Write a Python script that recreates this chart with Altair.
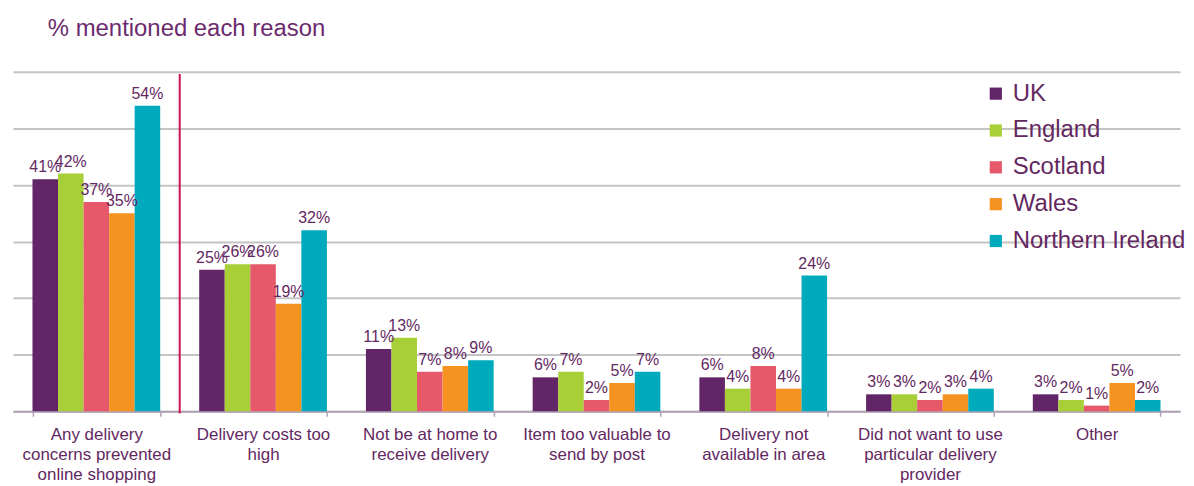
import altair as alt
import pandas as pd

categories = [
    "Any delivery\nconcerns prevented\nonline shopping",
    "Delivery costs too\nhigh",
    "Not be at home to\nreceive delivery",
    "Item too valuable to\nsend by post",
    "Delivery not\navailable in area",
    "Did not want to use\nparticular delivery\nprovider",
    "Other",
]
series = ["UK", "England", "Scotland", "Wales", "Northern Ireland"]
uk = [41, 25, 11, 6, 6, 3, 3]
england = [42, 26, 13, 7, 4, 3, 2]
scotland = [37, 26, 7, 2, 8, 2, 1]
wales = [35, 19, 8, 5, 4, 3, 5]
northern_ireland = [54, 32, 9, 7, 24, 4, 2]
colors = ["#622567", "#a9cf38", "#e5596a", "#f59220", "#00aabd"]
y_ticks = [0, 10, 20, 30, 40, 50, 60]

rows = []
for s, vals in zip(series, [uk, england, scotland, wales, northern_ireland]):
    for c, v in zip(categories, vals):
        rows.append({"category": c, "series": s, "value": v, "label": f"{v}%"})
df = pd.DataFrame(rows)

PURPLE = "#63285f"
P_IN = 0.234
W = 1172
STEP = W / len(categories)

x_enc = alt.X(
    "category:N",
    sort=categories,
    scale=alt.Scale(paddingInner=P_IN, paddingOuter=P_IN / 2),
    axis=alt.Axis(
        title=None,
        labelAngle=0,
        labelLimit=0,
        labelFontSize=17,
        labelColor=PURPLE,
        labelFont="Liberation Sans",
        labelLineHeight=20,
        labelPadding=10,
        labelExpr="split(datum.label, '\\n')",
        tickBand="extent",
        tickColor="#b0a3b5",
        tickSize=5,
        tickWidth=1.5,
        domainColor="#b0a3b5",
        domainWidth=2,
        grid=False,
    ),
)
y_enc = alt.Y(
    "value:Q",
    scale=alt.Scale(domain=[0, 60], nice=False),
    axis=alt.Axis(
        title=None,
        values=y_ticks,
        labels=False,
        ticks=False,
        domain=False,
        grid=True,
        gridColor="#c4c4c4",
        gridWidth=2,
    ),
)
xoff = alt.XOffset("series:N", sort=series, scale=alt.Scale(paddingInner=0, paddingOuter=0))
color_enc = alt.Color(
    "series:N",
    sort=series,
    scale=alt.Scale(domain=series, range=colors),
    legend=alt.Legend(
        title=None,
        orient="none",
        legendX=975,
        legendY=10,
        symbolType="square",
        symbolSize=150,
        symbolStrokeWidth=0,
        labelFontSize=24,
        labelFont="Liberation Sans",
        labelColor=PURPLE,
        labelOffset=5,
        labelLimit=0,
        rowPadding=13,
        padding=0,
    ),
)

base = alt.Chart(df)
bars = base.mark_bar().encode(x=x_enc, xOffset=xoff, y=y_enc, color=color_enc)
texts = base.mark_text(
    baseline="bottom", dy=-4, fontSize=16, font="Liberation Sans", color=PURPLE
).encode(x=alt.X("category:N", sort=categories), xOffset=alt.XOffset("series:N", sort=series), y="value:Q", text="label:N")

rule_df = pd.DataFrame({"category": [categories[0]], "top": [59.6], "bottom": [-0.4]})
rule = alt.Chart(rule_df).mark_rule(color="#d0104c", strokeWidth=2, xOffset=P_IN * STEP / 2).encode(
    x=alt.X("category:N", sort=categories, bandPosition=1),
    y="top:Q",
    y2="bottom:Q",
)

chart = (
    alt.layer(bars, texts, rule)
    .properties(
        width=W,
        height=341,
        padding={"left": 5, "top": 8, "right": 0, "bottom": 0},
        title=alt.TitleParams(
            "% mentioned each reason",
            anchor="start",
            dx=35,
            fontSize=24,
            fontWeight="normal",
            font="Liberation Sans",
            color="#6b2a6e",
            offset=31,
        ),
    )
    .configure_view(stroke=None)
)

chart.save("out.html", embed_options={"renderer": "svg", "actions": False})
